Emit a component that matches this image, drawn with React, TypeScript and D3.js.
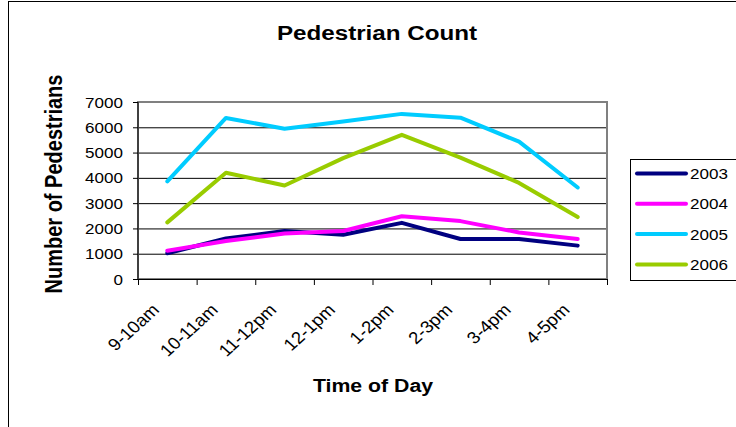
import React from "react"
import * as d3 from "d3"

// time slots on the x axis
const slots = ["9-10am", "10-11am", "11-12pm", "12-1pm", "1-2pm", "2-3pm", "3-4pm", "4-5pm"]
const years = ["2003", "2004", "2005", "2006"]
const colors = ["#000080", "#ff00ff", "#00ccff", "#99cc00"]

const count2003 = [1020, 1600, 1900, 1750, 2220, 1580, 1580, 1320]
const count2004 = [1120, 1500, 1800, 1900, 2480, 2290, 1840, 1580]
const count2005 = [3860, 6370, 5940, 6230, 6530, 6380, 5430, 3620]
const count2006 = [2240, 4200, 3700, 4780, 5700, 4800, 3800, 2450]
const yTicks = [0, 1000, 2000, 3000, 4000, 5000, 6000, 7000]

const series = [count2003, count2004, count2005, count2006]

const W = 736
const H = 427
const plot = { left: 138, right: 607, top: 102, bottom: 279 }
const font = "'Liberation Sans', Arial, sans-serif"
const sx = 1.1 // the picture is a bit stretched sideways

export default function App() {
  const x = d3
    .scaleBand()
    .domain(slots)
    .range([plot.left, plot.right])
  const y = d3
    .scaleLinear()
    .domain([0, 7000])
    .range([plot.bottom, plot.top])

  const line = d3
    .line<number>()
    .x((d, i) => x(slots[i])! + x.bandwidth() / 2)
    .y(d => y(d))

  const edges = slots.map(s => x(s)!).concat([plot.right])

  return (
    <svg
      width={W}
      height={H}
      style={{ position: "absolute", left: 0, top: 0, background: "#fff" }}
      fontFamily={font}
    >
      <rect x={8.5} y={1.5} width={740} height={440} fill="#fff" stroke="#000" />

      <text
        transform={`translate(377,39.5) scale(1.18,1)`}
        textAnchor="middle"
        fontSize={20.5}
        fontWeight="bold"
      >
        Pedestrian Count
      </text>

      {/* grid */}
      {yTicks.slice(1, -1).map(t => (
        <line key={t} x1={plot.left} x2={plot.right} y1={y(t) + 0.5} y2={y(t) + 0.5} stroke="#000" />
      ))}
      <rect
        x={plot.left}
        y={plot.top}
        width={plot.right - plot.left}
        height={plot.bottom - plot.top}
        fill="none"
        stroke="#808080"
        strokeWidth={2}
      />

      {/* y axis */}
      <line x1={plot.left} x2={plot.left} y1={plot.top} y2={plot.bottom} stroke="#000" />
      {yTicks.map(t => (
        <g key={t}>
          <line x1={plot.left - 5} x2={plot.left} y1={y(t) + 0.5} y2={y(t) + 0.5} stroke="#000" />
          <text
            transform={`translate(${plot.left - 15},${y(t) + 5.5}) scale(${sx},1)`}
            textAnchor="end"
            fontSize={15.5}
          >
            {t}
          </text>
        </g>
      ))}

      {/* x axis */}
      <line x1={plot.left} x2={plot.right} y1={plot.bottom + 0.5} y2={plot.bottom + 0.5} stroke="#000" />
      {edges.map((e, i) => (
        <line key={i} x1={e + 0.5} x2={e + 0.5} y1={plot.bottom} y2={plot.bottom + 6} stroke="#000" />
      ))}
      {slots.map(s => (
        <text
          key={s}
          transform={`translate(${x(s)! + x.bandwidth() / 2 - 7},311) scale(${sx},1) rotate(-45)`}
          textAnchor="end"
          fontSize={17}
        >
          {s}
        </text>
      ))}

      {/* lines */}
      {series.map((vals, k) => (
        <path
          key={years[k]}
          d={line(vals)!}
          fill="none"
          stroke={colors[k]}
          strokeWidth={4}
          strokeLinejoin="round"
          strokeLinecap="round"
        />
      ))}

      <text
        transform={`translate(373,392) scale(1.15,1)`}
        textAnchor="middle"
        fontSize={18.5}
        fontWeight="bold"
      >
        Time of Day
      </text>
      <text
        transform={`translate(62,184) scale(1.15,1) rotate(-90)`}
        textAnchor="middle"
        fontSize={20}
        fontWeight="bold"
      >
        Number of Pedestrians
      </text>

      {/* legend */}
      <rect x={630.5} y={159.5} width={120} height={121} fill="#fff" stroke="#000" />
      {years.map((yr, k) => {
        const cy = 173.5 + k * 30.3
        return (
          <g key={yr}>
            <line x1={637} x2={686} y1={cy} y2={cy} stroke={colors[k]} strokeWidth={4} strokeLinecap="round" />
            <text transform={`translate(690,${cy + 5.5}) scale(${sx},1)`} fontSize={15.5}>
              {yr}
            </text>
          </g>
        )
      })}
    </svg>
  )
}
